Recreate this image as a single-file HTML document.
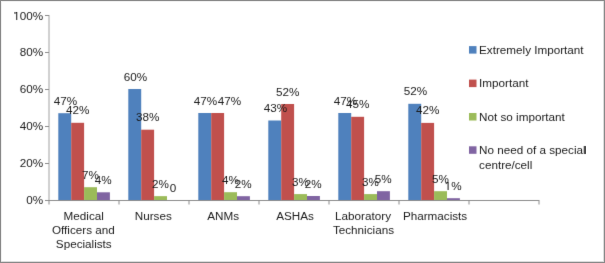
<!DOCTYPE html>
<html><head><meta charset="utf-8"><style>
html,body{margin:0;padding:0;background:#fff;}
body{width:605px;height:263px;overflow:hidden;position:relative;}
svg{position:absolute;left:0;top:0;will-change:transform;}
text{font-family:"Liberation Sans",sans-serif;font-size:11.7px;fill:#1a1a1a;}
</style></head><body>
<svg width="605" height="263" viewBox="0 0 605 263">
<defs><filter id="bl" x="0" y="0" width="1" height="1" color-interpolation-filters="sRGB"><feConvolveMatrix order="3" kernelMatrix="0.005000000000000001 0.1 0.005000000000000001 0.1 1 0.1 0.005000000000000001 0.1 0.005000000000000001" edgeMode="duplicate" preserveAlpha="false"/></filter></defs>
<g filter="url(#bl)">
<rect x="58.300" y="113.200" width="12.900" height="86.800" fill="#4F81BD"/>
<rect x="71.200" y="122.800" width="12.900" height="77.200" fill="#C0504D"/>
<rect x="84.100" y="187.200" width="12.900" height="12.800" fill="#9BBB59"/>
<rect x="97.000" y="192.300" width="12.900" height="7.700" fill="#8064A2"/>
<rect x="128.300" y="89.000" width="12.900" height="111.000" fill="#4F81BD"/>
<rect x="141.200" y="129.700" width="12.900" height="70.300" fill="#C0504D"/>
<rect x="154.100" y="196.150" width="12.900" height="3.850" fill="#9BBB59"/>
<rect x="198.300" y="113.000" width="12.900" height="87.000" fill="#4F81BD"/>
<rect x="211.200" y="113.000" width="12.900" height="87.000" fill="#C0504D"/>
<rect x="224.100" y="192.200" width="12.900" height="7.800" fill="#9BBB59"/>
<rect x="237.000" y="196.200" width="12.900" height="3.800" fill="#8064A2"/>
<rect x="268.300" y="120.500" width="12.900" height="79.500" fill="#4F81BD"/>
<rect x="281.200" y="104.000" width="12.900" height="96.000" fill="#C0504D"/>
<rect x="294.100" y="194.100" width="12.900" height="5.900" fill="#9BBB59"/>
<rect x="307.000" y="196.000" width="12.900" height="4.000" fill="#8064A2"/>
<rect x="338.300" y="113.000" width="12.900" height="87.000" fill="#4F81BD"/>
<rect x="351.200" y="116.800" width="12.900" height="83.200" fill="#C0504D"/>
<rect x="364.100" y="194.100" width="12.900" height="5.900" fill="#9BBB59"/>
<rect x="377.000" y="191.200" width="12.900" height="8.800" fill="#8064A2"/>
<rect x="408.300" y="103.800" width="12.900" height="96.200" fill="#4F81BD"/>
<rect x="421.200" y="122.900" width="12.900" height="77.100" fill="#C0504D"/>
<rect x="434.100" y="191.200" width="12.900" height="8.800" fill="#9BBB59"/>
<rect x="447.000" y="198.200" width="12.900" height="1.800" fill="#8064A2"/>
<line x1="49.0" y1="15" x2="49.0" y2="200" stroke="#a0a0a0" stroke-width="1"/>
<line x1="45" y1="15.5" x2="49.0" y2="15.5" stroke="#8c8c8c" stroke-width="1"/>
<line x1="45" y1="52.5" x2="49.0" y2="52.5" stroke="#8c8c8c" stroke-width="1"/>
<line x1="45" y1="89.5" x2="49.0" y2="89.5" stroke="#8c8c8c" stroke-width="1"/>
<line x1="45" y1="126.5" x2="49.0" y2="126.5" stroke="#8c8c8c" stroke-width="1"/>
<line x1="45" y1="163.5" x2="49.0" y2="163.5" stroke="#8c8c8c" stroke-width="1"/>
<line x1="45" y1="200.5" x2="49.0" y2="200.5" stroke="#8c8c8c" stroke-width="1"/>
<line x1="49.0" y1="200.5" x2="539.0" y2="200.5" stroke="#8c8c8c" stroke-width="1"/>
<line x1="49.0" y1="200" x2="49.0" y2="204.5" stroke="#8c8c8c" stroke-width="1"/>
<line x1="119.0" y1="200" x2="119.0" y2="204.5" stroke="#8c8c8c" stroke-width="1"/>
<line x1="189.0" y1="200" x2="189.0" y2="204.5" stroke="#8c8c8c" stroke-width="1"/>
<line x1="259.0" y1="200" x2="259.0" y2="204.5" stroke="#8c8c8c" stroke-width="1"/>
<line x1="329.0" y1="200" x2="329.0" y2="204.5" stroke="#8c8c8c" stroke-width="1"/>
<line x1="399.0" y1="200" x2="399.0" y2="204.5" stroke="#8c8c8c" stroke-width="1"/>
<line x1="469.0" y1="200" x2="469.0" y2="204.5" stroke="#8c8c8c" stroke-width="1"/>
<line x1="539.0" y1="200" x2="539.0" y2="204.5" stroke="#8c8c8c" stroke-width="1"/>
<path transform="translate(13.276,20) scale(0.005713,-0.005713)" d="M515 0V1237L197 1010V1180L530 1409H696V0Z" fill="#1a1a1a"/>
<text x="19.783" y="20">00%</text>
<text x="43.2" y="56.00" text-anchor="end">80%</text>
<text x="43.2" y="93.00" text-anchor="end">60%</text>
<text x="43.2" y="130.00" text-anchor="end">40%</text>
<text x="43.2" y="167.00" text-anchor="end">20%</text>
<text x="43.2" y="204.00" text-anchor="end">0%</text>
<text x="65.51" y="104.70" text-anchor="middle">47%</text>
<text x="77.64" y="114.30" text-anchor="middle">42%</text>
<text x="90.36" y="178.70" text-anchor="middle">7%</text>
<text x="103.09" y="183.80" text-anchor="middle">4%</text>
<text x="135.51" y="80.50" text-anchor="middle">60%</text>
<text x="147.64" y="121.20" text-anchor="middle">38%</text>
<text x="160.36" y="187.65" text-anchor="middle">2%</text>
<text x="173.09" y="191.50" text-anchor="middle">0</text>
<text x="205.51" y="104.50" text-anchor="middle">47%</text>
<text x="229.44" y="104.50" text-anchor="middle">47%</text>
<text x="230.36" y="183.70" text-anchor="middle">4%</text>
<text x="243.09" y="187.70" text-anchor="middle">2%</text>
<text x="275.51" y="112.00" text-anchor="middle">43%</text>
<text x="287.64" y="95.50" text-anchor="middle">52%</text>
<text x="300.36" y="185.60" text-anchor="middle">3%</text>
<text x="313.09" y="187.50" text-anchor="middle">2%</text>
<text x="345.51" y="104.50" text-anchor="middle">47%</text>
<text x="357.64" y="108.30" text-anchor="middle">45%</text>
<text x="370.36" y="185.60" text-anchor="middle">3%</text>
<text x="383.09" y="182.70" text-anchor="middle">5%</text>
<text x="415.51" y="95.30" text-anchor="middle">52%</text>
<text x="427.64" y="114.40" text-anchor="middle">42%</text>
<text x="440.36" y="182.70" text-anchor="middle">5%</text>
<path transform="translate(444.636,190) scale(0.005713,-0.005713)" d="M515 0V1237L197 1010V1180L530 1409H696V0Z" fill="#1a1a1a"/>
<text x="451.143" y="190">%</text>
<text x="83.75" y="220.00" text-anchor="middle">Medical</text>
<text x="83.34" y="234.00" text-anchor="middle">Officers and</text>
<text x="83.79" y="248.00" text-anchor="middle">Specialists</text>
<text x="153.26" y="220.00" text-anchor="middle">Nurses</text>
<text x="223.15" y="220.00" text-anchor="middle">ANMs</text>
<text x="294.98" y="220.00" text-anchor="middle">ASHAs</text>
<text x="363.05" y="220.00" text-anchor="middle">Laboratory</text>
<text x="363.49" y="234.00" text-anchor="middle">Technicians</text>
<text x="435.07" y="220.00" text-anchor="middle">Pharmacists</text>
<rect x="469" y="46.10" width="7.5" height="7.5" fill="#4F81BD"/>
<text x="479.05" y="53.80">Extremely Important</text>
<rect x="469" y="79.60" width="7.5" height="7.5" fill="#C0504D"/>
<text x="479.05" y="87.30">Important</text>
<rect x="469" y="113.00" width="7.5" height="7.5" fill="#9BBB59"/>
<text x="479.05" y="120.70">Not so important</text>
<rect x="469" y="146.30" width="7.5" height="7.5" fill="#8064A2"/>
<text x="479.05" y="154.00">No need of a special</text>
<text x="479.05" y="169.20">centre/cell</text>
</g>
<rect x="0" y="0" width="605" height="1" fill="#888"/>
<rect x="0" y="0" width="1" height="263" fill="#888"/>
<rect x="604" y="0" width="1" height="263" fill="#888"/>
<rect x="0" y="262" width="605" height="1" fill="#888"/>
<rect x="603" y="1" width="1" height="261" fill="#dcdcdc"/>
<rect x="1" y="261" width="602" height="1" fill="#dcdcdc"/>
<rect x="1" y="1" width="1" height="260" fill="#f0f0f0"/>
<rect x="2" y="1" width="601" height="1" fill="#f0f0f0"/>
</svg>
</body></html>
